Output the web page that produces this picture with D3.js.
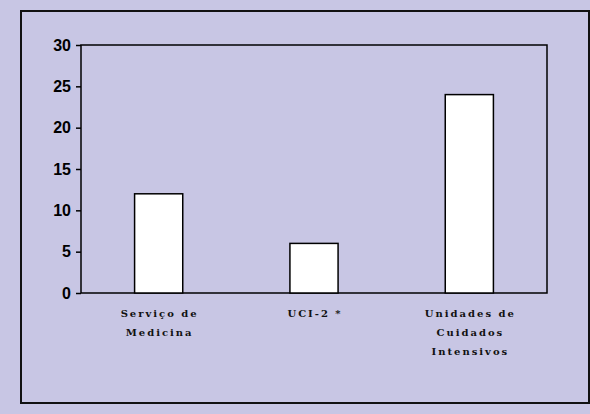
<!DOCTYPE html>
<html>
<head>
<meta charset="utf-8">
<script src="https://cdn.jsdelivr.net/npm/d3@7"></script>
<style>
  body { margin: 0; background: #c8c6e4; }
</style>
</head>
<body>
<svg id="drawing_region"></svg>
<script>
const categories = [["Serviço de", "Medicina"], ["UCI-2 *"], ["Unidades de", "Cuidados", "Intensivos"]];
const values = [12, 6, 24];
const yticks = [0, 5, 10, 15, 20, 25, 30];

const config = {
    width: 590,
    height: 414,
    margin: {top: 45, right: 43, bottom: 121, left: 81}
};

const svg = d3.select('#drawing_region')
    .attr('width', config.width)
    .attr('height', config.height);

svg.append('rect')
    .attr('width', config.width)
    .attr('height', config.height)
    .attr('fill', '#c8c6e4');

// outer frame
svg.append('rect')
    .attr('x', 21).attr('y', 11)
    .attr('width', 568).attr('height', 392)
    .attr('fill', 'none')
    .attr('stroke', '#111')
    .attr('stroke-width', 2);

const inner_width = config.width - config.margin.left - config.margin.right;
const inner_height = config.height - config.margin.top - config.margin.bottom;

const chart = svg.append('g')
    .attr('transform', `translate(${config.margin.left}, ${config.margin.top})`);

const xscale = d3.scaleBand()
    .domain(d3.range(categories.length))
    .range([0, inner_width])
    .paddingInner(0.69)
    .paddingOuter(0.345);

const yscale = d3.scaleLinear()
    .domain([0, 30])
    .range([inner_height, 0]);

// plot frame
chart.append('rect')
    .attr('width', inner_width)
    .attr('height', inner_height)
    .attr('fill', 'none')
    .attr('stroke', '#000')
    .attr('stroke-width', 1.5);

chart.selectAll('.bar')
    .data(values)
    .enter()
    .append('rect')
    .attr('class', 'bar')
    .attr('x', (d, i) => xscale(i))
    .attr('y', d => yscale(d))
    .attr('width', xscale.bandwidth())
    .attr('height', d => inner_height - yscale(d))
    .attr('fill', '#fff')
    .attr('stroke', '#000')
    .attr('stroke-width', 1.5);

const yaxis = d3.axisLeft(yscale)
    .tickValues(yticks)
    .tickSize(5)
    .tickPadding(5);

const yaxis_group = chart.append('g').call(yaxis);
yaxis_group.select('.domain').remove();
yaxis_group.selectAll('line').attr('stroke', '#000').attr('stroke-width', 1.5);
yaxis_group.selectAll('text')
    .attr('font-family', 'Liberation Sans, Arial, sans-serif')
    .attr('font-weight', 'bold')
    .attr('font-size', '16px')
    .attr('fill', '#000');

const labels = chart.selectAll('.xlabel')
    .data(categories)
    .enter()
    .append('text')
    .attr('class', 'xlabel')
    .attr('text-anchor', 'middle')
    .attr('font-family', 'DejaVu Serif, serif')
    .attr('font-weight', 'bold')
    .attr('font-size', '10px')
    .attr('letter-spacing', '2px')
    .attr('fill', '#111')
    .attr('transform', (d, i) => `translate(${xscale(i) + xscale.bandwidth() / 2 + 1}, ${inner_height + 24})`);

labels.selectAll('tspan')
    .data(d => d)
    .enter()
    .append('tspan')
    .attr('x', 0)
    .attr('dy', (d, i) => i === 0 ? 0 : 19)
    .text(d => d);
</script>
</body>
</html>
